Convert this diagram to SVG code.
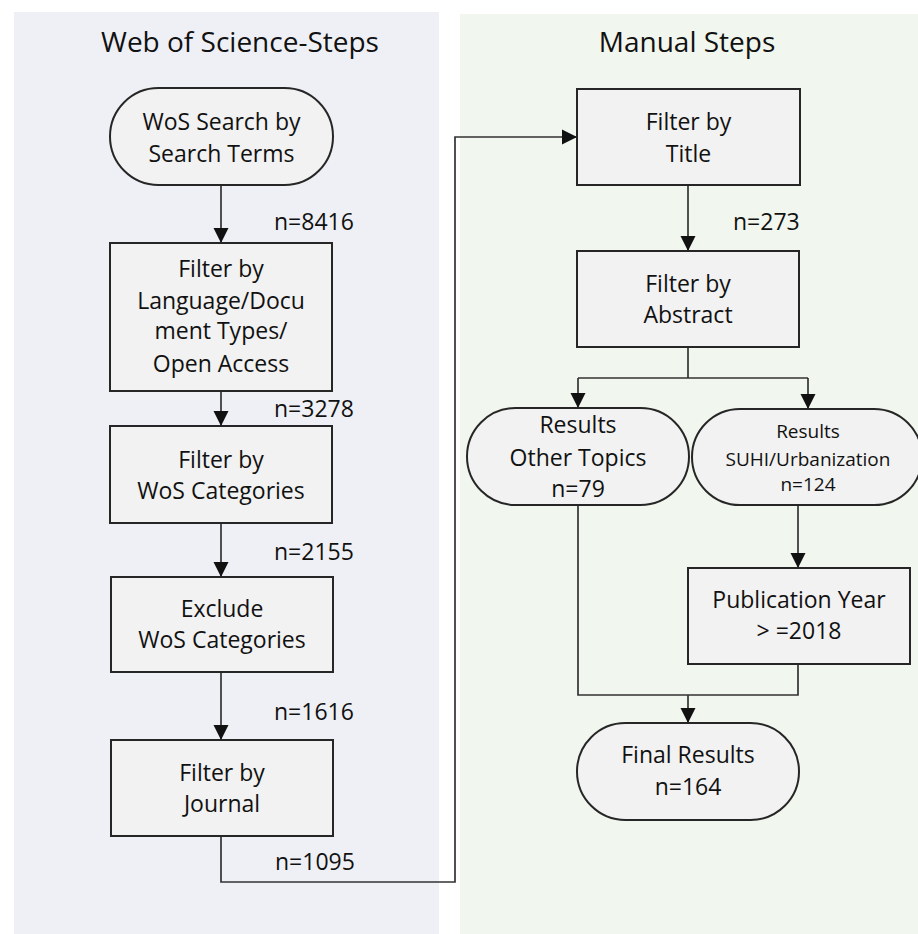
<svg xmlns="http://www.w3.org/2000/svg" width="918" height="934" viewBox="0 0 918 934">
  <style>
    .panelL { fill: #EFF0F5; }
    .panelR { fill: #F1F6EE; }
    .shape { fill: #F2F2F2; stroke: #262626; stroke-width: 2; }
    .conn { fill: none; stroke: #333333; stroke-width: 1.7; }
    text { font-family: "Open Sans", "Noto Sans", "Liberation Sans", sans-serif; fill: #111111; text-anchor: middle; }
    .title { font-size: 28px; }
    .lbl { font-size: 23px; }
    .small { font-size: 19px; }
    .n { font-size: 23px; text-anchor: start; }
  </style>
  <defs>
    <marker id="arr" markerUnits="userSpaceOnUse" markerWidth="16" markerHeight="16" viewBox="0 0 16 16" refX="15" refY="8" orient="auto">
      <path d="M0,0.5 L15,8 L0,15.5 Z" fill="#111111"/>
    </marker>
  </defs>

  <rect width="918" height="934" fill="#FFFFFF"/>
  <rect class="panelL" x="14" y="12" width="425" height="922"/>
  <rect class="panelR" x="460" y="14" width="458" height="920"/>

  <text class="title" x="240" y="52">Web of Science-Steps</text>
  <text class="title" x="687" y="52">Manual Steps</text>

  <g id="connectors">
    <path class="conn" d="M221,185 V243" marker-end="url(#arr)"/>
    <path class="conn" d="M221,391 V426" marker-end="url(#arr)"/>
    <path class="conn" d="M221,523 V577" marker-end="url(#arr)"/>
    <path class="conn" d="M221,672 V740" marker-end="url(#arr)"/>
    <path class="conn" d="M221,836 V882 H455 V137 H577" marker-end="url(#arr)"/>
    <path class="conn" d="M688,185 V251" marker-end="url(#arr)"/>
    <path class="conn" d="M688,347 V378"/>
    <path class="conn" d="M578,378 H808"/>
    <path class="conn" d="M578,378 V408" marker-end="url(#arr)"/>
    <path class="conn" d="M808,378 V409" marker-end="url(#arr)"/>
    <path class="conn" d="M798,505 V568" marker-end="url(#arr)"/>
    <path class="conn" d="M578,505 V695 H798 V664"/>
    <path class="conn" d="M688,695 V723" marker-end="url(#arr)"/>
    <text class="n" x="274" y="230">n=8416</text>
    <text class="n" x="274" y="417">n=3278</text>
    <text class="n" x="274" y="560">n=2155</text>
    <text class="n" x="274" y="720">n=1616</text>
    <text class="n" x="275" y="870">n=1095</text>
    <text class="n" x="733" y="230">n=273</text>
  </g>

  <g id="wos-search">
    <rect class="shape" x="110" y="88" width="223" height="97" rx="48.5"/>
    <text class="lbl" x="221.5" y="130">WoS Search by</text>
    <text class="lbl" x="221.5" y="162">Search Terms</text>
  </g>
  <g id="filter-language">
    <rect class="shape" x="110" y="243" width="222" height="148"/>
    <text class="lbl" x="221" y="277">Filter by</text>
    <text class="lbl" x="221" y="309">Language/Docu</text>
    <text class="lbl" x="221" y="339">ment Types/</text>
    <text class="lbl" x="221" y="372">Open Access</text>
  </g>
  <g id="filter-categories">
    <rect class="shape" x="110" y="426" width="222" height="97"/>
    <text class="lbl" x="221" y="468">Filter by</text>
    <text class="lbl" x="221" y="499">WoS Categories</text>
  </g>
  <g id="exclude-categories">
    <rect class="shape" x="111" y="577" width="222" height="95"/>
    <text class="lbl" x="222" y="617">Exclude</text>
    <text class="lbl" x="222" y="648">WoS Categories</text>
  </g>
  <g id="filter-journal">
    <rect class="shape" x="111" y="740" width="222" height="96"/>
    <text class="lbl" x="222" y="781">Filter by</text>
    <text class="lbl" x="222" y="812">Journal</text>
  </g>

  <g id="filter-title">
    <rect class="shape" x="577" y="89" width="223" height="96"/>
    <text class="lbl" x="688.5" y="130">Filter by</text>
    <text class="lbl" x="688.5" y="162">Title</text>
  </g>
  <g id="filter-abstract">
    <rect class="shape" x="577" y="251" width="222" height="96"/>
    <text class="lbl" x="688" y="292">Filter by</text>
    <text class="lbl" x="688" y="323">Abstract</text>
  </g>
  <g id="results-other">
    <rect class="shape" x="467" y="408" width="222" height="97" rx="48.5"/>
    <text class="lbl" x="578" y="433">Results</text>
    <text class="lbl" x="578" y="466">Other Topics</text>
    <text class="lbl" x="578" y="497">n=79</text>
  </g>
  <g id="results-suhi">
    <rect class="shape" x="692" y="409" width="230" height="96" rx="48"/>
    <text class="small" x="808" y="438">Results</text>
    <text class="small" x="808" y="466">SUHI/Urbanization</text>
    <text class="small" x="808" y="491">n=124</text>
  </g>
  <g id="publication-year">
    <rect class="shape" x="688" y="568" width="222" height="96"/>
    <text class="lbl" x="799" y="608">Publication Year</text>
    <text class="lbl" x="799" y="639">&gt; =2018</text>
  </g>
  <g id="final-results">
    <rect class="shape" x="577" y="723" width="222" height="97" rx="48.5"/>
    <text class="lbl" x="688" y="763">Final Results</text>
    <text class="lbl" x="688" y="795">n=164</text>
  </g>
</svg>
